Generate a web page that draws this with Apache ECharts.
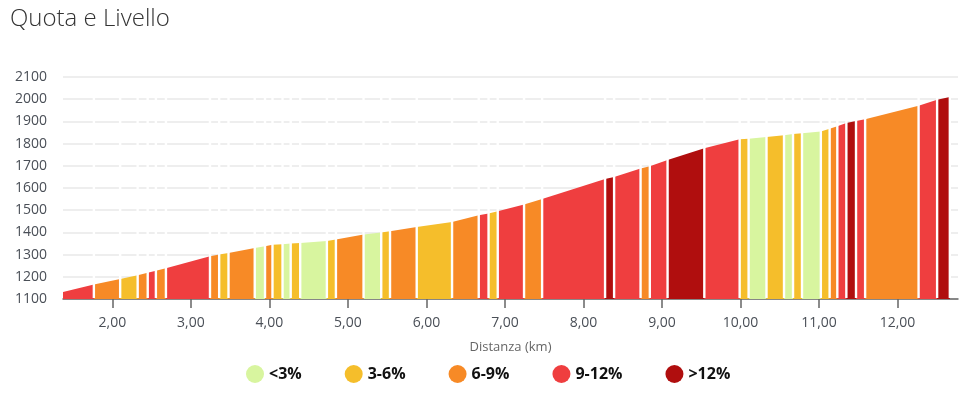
<!DOCTYPE html>
<html>
<head>
<meta charset="utf-8">
<script src="https://cdn.jsdelivr.net/npm/echarts@6/dist/echarts.min.js"></script>
<style>
  html, body { margin: 0; padding: 0; background: #fff; }
  #chart { width: 964px; height: 398px; }
</style>
</head>
<body>
<div id="chart"></div>
<script>
// confini dei tratti (km) e quota (m) a ciascun confine
const distanze = [1.371, 1.764, 2.099, 2.322, 2.450, 2.554, 2.682, 3.243, 3.360, 3.479,
  3.813, 3.944, 4.039, 4.167, 4.271, 4.392, 4.732, 4.847, 5.199, 5.424,
  5.536, 5.876, 6.326, 6.666, 6.791, 6.908, 7.243, 7.473, 8.275, 8.390,
  8.727, 8.845, 9.071, 9.539, 9.989, 10.103, 10.331, 10.554, 10.669, 10.783,
  11.023, 11.135, 11.233, 11.348, 11.471, 11.587, 12.268, 12.504, 12.666]
const quote = [1131, 1165, 1190, 1207, 1218, 1227, 1238, 1293, 1300, 1307,
  1330, 1338, 1344, 1347, 1350, 1352, 1361, 1368, 1390, 1399,
  1405, 1424, 1447, 1477, 1485, 1495, 1526, 1550, 1640, 1649,
  1688, 1698, 1726, 1779, 1820, 1822, 1830, 1838, 1843, 1847,
  1855, 1867, 1878, 1893, 1902, 1910, 1970, 1998, 2010]
// classe di pendenza di ogni tratto: 0 <3%, 1 3-6%, 2 6-9%, 3 9-12%, 4 >12%
const classi = [3, 2, 1, 2, 3, 2, 3, 2, 1, 2,
  0, 2, 1, 0, 1, 0, 1, 2, 0, 1,
  2, 1, 2, 3, 1, 3, 2, 3, 4, 3,
  2, 3, 4, 3, 1, 0, 1, 0, 1, 0,
  1, 2, 3, 4, 3, 2, 3, 4]
const nomiClassi = ['<3%', '3-6%', '6-9%', '9-12%', '>12%']
const colori = ['#d8f59f', '#f5be2b', '#f78a26', '#ef3e3f', '#b00e0e']
const tickKm = [2, 3, 4, 5, 6, 7, 8, 9, 10, 11, 12]

const quotaMin = 1100
const quotaMax = 2100

function disegnaTratto(params, api) {
  let x0 = api.value(0)
  let x1 = api.value(1)
  let points = [
    api.coord([x0, quotaMin]),
    api.coord([x0, api.value(2)]),
    api.coord([x1, api.value(3)]),
    api.coord([x1, quotaMin]),
  ]
  return {
    type: 'polygon',
    shape: { points: points },
    style: { fill: api.visual('color') },
  }
}

function disegnaSeparatore(params, api) {
  let basso = api.coord([api.value(0), quotaMin])
  let alto = api.coord([api.value(0), 2050])
  return {
    type: 'line',
    shape: { x1: basso[0], y1: basso[1] - 1, x2: alto[0], y2: alto[1] },
    style: { stroke: '#fff', lineWidth: 2.4 },
  }
}

let series = nomiClassi.map((nome, c) => {
  let data = []
  classi.forEach((k, i) => {
    if (k === c) {
      data.push([distanze[i], distanze[i + 1], quote[i], quote[i + 1]])
    }
  })
  return {
    name: nome,
    type: 'custom',
    renderItem: disegnaTratto,
    itemStyle: { color: colori[c] },
    encode: { x: [0, 1], y: [2, 3] },
    data: data,
    z: 2,
  }
})
series.push({
  name: 'separatori',
  type: 'custom',
  renderItem: disegnaSeparatore,
  encode: { x: 0 },
  data: distanze.slice(1).map((d) => [d]),
  silent: true,
  z: 3,
})

const chart = echarts.init(document.getElementById('chart'))
chart.setOption({
  animation: false,
  title: {
    text: 'Quota e Livello',
    left: 5,
    top: 2,
    textStyle: {
      fontFamily: 'Open Sans',
      fontSize: 24,
      fontWeight: 300,
      color: '#333',
    },
  },
  legend: {
    data: nomiClassi,
    left: 241,
    top: 360,
    icon: 'circle',
    itemWidth: 18,
    itemHeight: 18,
    itemGap: 43,
    textStyle: {
      fontFamily: 'Open Sans',
      fontSize: 16,
      fontWeight: 'bold',
      color: '#111',
    },
  },
  grid: { left: 63, right: 6, top: 77, bottom: 99 },
  xAxis: {
    type: 'value',
    min: 1.371,
    max: 12.77,
    name: 'Distanza (km)',
    nameLocation: 'middle',
    nameGap: 42,
    nameTextStyle: { color: '#666', fontSize: 13, fontFamily: 'Open Sans' },
    axisLine: { lineStyle: { color: '#666', width: 1.5 } },
    axisTick: { customValues: tickKm, length: 9, lineStyle: { color: '#666', width: 1.5 } },
    axisLabel: {
      customValues: tickKm,
      margin: 17,
      color: '#4a4f57',
      fontSize: 14,
      fontFamily: 'Open Sans',
      formatter: (v) => v.toFixed(2).replace('.', ','),
    },
    splitLine: { show: false },
  },
  yAxis: {
    type: 'value',
    min: quotaMin,
    max: quotaMax,
    interval: 100,
    axisLine: { show: false },
    axisTick: { show: false },
    axisLabel: {
      color: '#4a4f57',
      fontSize: 14,
      margin: 16,
      fontFamily: 'Open Sans',
      formatter: (v) => String(v),
    },
    splitLine: { lineStyle: { color: '#e8e8e8', width: 1.5 } },
  },
  series: series,
})
</script>
</body>
</html>
